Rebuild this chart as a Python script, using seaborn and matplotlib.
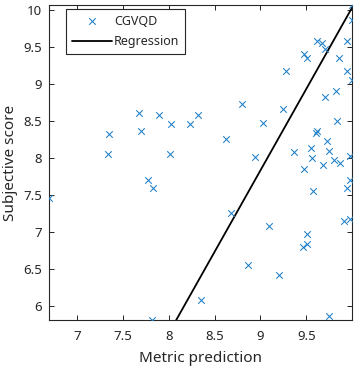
import numpy as np
import pandas as pd
import matplotlib
matplotlib.use("Agg")
import matplotlib.pyplot as plt
import seaborn as sns

# Metric prediction (x) and subjective score (y) for the CGVQD points
metric = [6.70, 7.34, 7.35, 7.68, 7.70, 7.78, 7.83, 7.82, 7.90, 8.03,
          8.02, 8.23, 8.32, 8.35, 8.63, 8.68, 8.80, 8.86, 8.94, 9.03,
          9.09, 9.20, 9.25, 9.28, 9.37, 9.46, 9.47, 9.47, 9.51, 9.51,
          9.51, 9.55, 9.56, 9.57, 9.61, 9.62, 9.62, 9.67, 9.70, 9.68,
          9.70, 9.72, 9.75, 9.75, 9.80, 9.82, 9.83, 9.86, 9.87, 9.91,
          9.94, 9.94, 9.94, 9.97, 9.97, 9.98, 10.0, 10.0, 10.0]
subjective = [7.46, 8.05, 8.32, 8.61, 8.37, 7.71, 7.60, 5.81, 8.58, 8.46,
              8.06, 8.46, 8.58, 6.08, 8.26, 7.26, 8.73, 6.56, 8.01, 8.47,
              7.08, 6.42, 8.66, 9.18, 8.08, 6.80, 9.41, 7.85, 9.35, 6.97,
              6.84, 8.14, 8.00, 7.55, 8.34, 8.36, 9.58, 9.56, 9.48, 7.91,
              8.82, 8.23, 8.09, 5.87, 7.97, 8.91, 8.50, 9.36, 7.94, 7.15,
              9.58, 9.18, 7.60, 7.18, 7.70, 8.03, 9.06, 9.87, 10.07]

# regression line y = slope * x + intercept
slope = 2.206
intercept = -12.02

df = pd.DataFrame({"metric": metric, "subjective": subjective})

sns.set_style("ticks")
plt.rcParams["font.family"] = ["Noto Sans", "DejaVu Sans"]

fig = plt.figure(figsize=(3.58, 3.69), dpi=100)
ax = fig.add_axes([0.1377, 0.1328, 0.8463, 0.8536])

xmin, xmax = df["metric"].min(), df["metric"].max()
ymin, ymax = df["subjective"].min(), df["subjective"].max()

sns.scatterplot(data=df, x="metric", y="subjective", marker="x", s=22,
                color="#1f7fc8", linewidth=0.75, label="CGVQD", ax=ax, zorder=3)

reg = pd.DataFrame({"x": [xmin, xmax]})
reg["y"] = slope * reg["x"] + intercept
sns.lineplot(data=reg, x="x", y="y", color="black", linewidth=1.3,
             label="Regression", ax=ax, zorder=2)

ax.set_xlim(xmin, xmax)
ax.set_ylim(ymin, ymax)
ax.set_xticks([7, 7.5, 8, 8.5, 9, 9.5])
ax.set_xticklabels(["7", "7.5", "8", "8.5", "9", "9.5"])
ax.set_yticks([6, 6.5, 7, 7.5, 8, 8.5, 9, 9.5, 10])
ax.set_yticklabels(["6", "6.5", "7", "7.5", "8", "8.5", "9", "9.5", "10"])

gray = "#262626"
for side in ["left", "right", "top", "bottom"]:
    ax.spines[side].set_visible(True)
    ax.spines[side].set_color(gray)
    ax.spines[side].set_linewidth(0.8)
ax.tick_params(direction="in", length=3.5, width=0.7, colors=gray,
               labelsize=9.5, top=True, right=True)
ax.tick_params(axis="x", pad=7)
ax.tick_params(axis="y", pad=5)

ax.set_xlabel("Metric prediction", fontsize=11, color=gray, labelpad=6)
ax.set_ylabel("Subjective score", fontsize=11, color=gray, labelpad=4)

leg = ax.legend(loc="upper left", bbox_to_anchor=(0.055, 0.987), borderaxespad=0,
                fontsize=9, handlelength=3.2, handletextpad=0.2, borderpad=0.45,
                labelspacing=0.6, fancybox=False, frameon=True)
leg.get_frame().set_edgecolor(gray)
leg.get_frame().set_linewidth(0.8)
leg.get_frame().set_alpha(1)

fig.savefig("out.png", dpi=100)
